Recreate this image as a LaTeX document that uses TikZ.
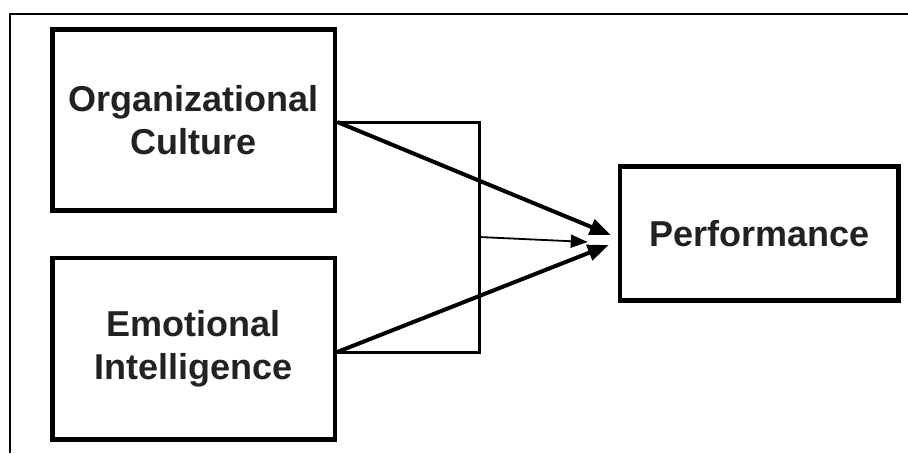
\documentclass[tikz,border=0pt]{standalone}
\usepackage{fontspec}
\setmainfont{Liberation Sans}
\usetikzlibrary{arrows.meta}
\definecolor{txt}{RGB}{34,34,34}
\tikzset{
  box/.style={draw=black, line width=4.5pt, align=center, inner sep=0pt,
    text=txt, font=\bfseries\fontsize{36}{43}\selectfont},
  bracket/.style={draw=black, line width=3pt},
  thickarrow/.style={draw=black, line width=4pt, -{Triangle[length=21pt,width=16pt]}},
  thinarrow/.style={draw=black, line width=1.8pt, -{Triangle[length=17pt,width=13pt]}},
  frame/.style={draw=black, line width=2.5pt}
}
\begin{document}
\begin{tikzpicture}[x=1pt,y=-1pt]
  \useasboundingbox (0,0) rectangle (908,453);
  % outer frame (top and left edges only are visible)
  \coordinate (fbl) at (10,453);
  \coordinate (ftl) at (10,14);
  \coordinate (ftr) at (908,14);
  \draw[frame] (fbl) -- (ftl) -- (ftr);

  \node[box, minimum width=282.5pt, minimum height=181pt] (oc) at (193.75,120) {Organizational\\Culture};
  \node[box, minimum width=282.5pt, minimum height=181.5pt] (ei) at (193.75,348.75) {Emotional\\Intelligence};
  \node[box, minimum width=278.5pt, minimum height=134pt] (perf) at (759.25,233.5) {Performance};

  % bracket joining the two inputs
  \coordinate (bt) at (479,122);
  \coordinate (bb) at (479,352);
  \coordinate (bm) at (479,237);
  \draw[bracket] ([yshift=-2pt]oc.east) -- (bt) -- (bb) -- ([yshift=-3.25pt]ei.east);

  % arrows
  \draw[thickarrow] ([yshift=-2pt]oc.east) -- ([xshift=-7pt,yshift=-1.5pt]perf.west);
  \draw[thickarrow] ([yshift=-3.25pt]ei.east) -- ([xshift=-9pt,yshift=-11.5pt]perf.west);
  \draw[thinarrow] (bm) -- ([xshift=-30pt,yshift=-8.5pt]perf.west);
\end{tikzpicture}
\end{document}
